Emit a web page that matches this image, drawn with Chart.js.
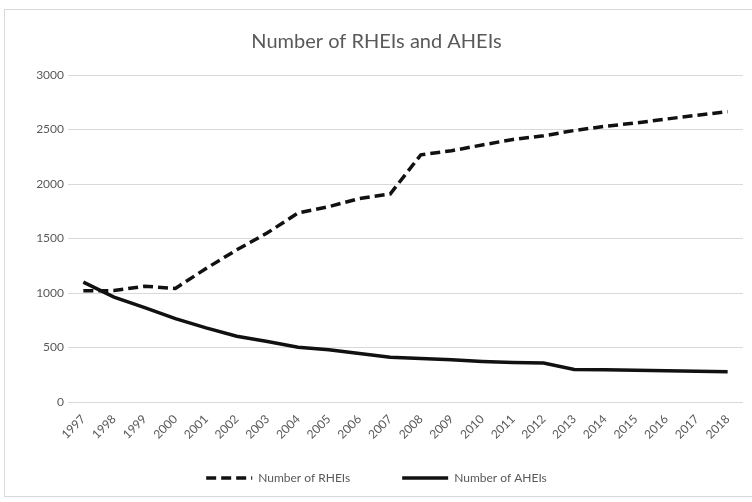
<!DOCTYPE html>
<html>
<head>
<meta charset="utf-8">
<script src="https://cdn.jsdelivr.net/npm/chart.js@4/dist/chart.umd.min.js"></script>
<style>
  body { margin: 0; background: #fff; }
  #wrap { position: relative; width: 752px; height: 502px; }
  #frame { position: absolute; left: 4px; top: 9px; width: 750px; height: 488px; border: 1px solid #d9d9d9; box-sizing: border-box; }
  canvas { position: absolute; left: 0; top: 0; }
</style>
</head>
<body>
<div id="wrap">
  <div id="frame"></div>
  <canvas id="chart" width="752" height="502"></canvas>
</div>
<script>
const years = ["1997", "1998", "1999", "2000", "2001", "2002", "2003", "2004", "2005", "2006", "2007",
    "2008", "2009", "2010", "2011", "2012", "2013", "2014", "2015", "2016", "2017", "2018"];
const rheis = [1020, 1022, 1062, 1042, 1225, 1396, 1552, 1735, 1792, 1867, 1908,
    2268, 2305, 2358, 2409, 2442, 2491, 2529, 2560, 2596, 2631, 2664];
const aheis = [1100, 963, 865, 765, 680, 603, 555, 502, 480, 445, 410,
    400, 388, 372, 362, 358, 298, 296, 292, 286, 282, 278];
const yTicks = [0, 500, 1000, 1500, 2000, 2500, 3000];

const grey = "#595959";
const fontFamily = "Lato, 'Open Sans', sans-serif";
const dash = [10, 5];

const ctx = document.getElementById("chart").getContext("2d");
new Chart(ctx, {
    type: "line",
    data: {
        labels: years,
        datasets: [{
            label: "Number of RHEIs",
            data: rheis,
            borderColor: "#111",
            backgroundColor: "#111",
            borderWidth: 3.5,
            borderDash: dash,
            pointRadius: 0,
            pointStyle: "line",
            tension: 0
        }, {
            label: "Number of AHEIs",
            data: aheis,
            borderColor: "#111",
            backgroundColor: "#111",
            borderWidth: 3.5,
            pointRadius: 0,
            pointStyle: "line",
            tension: 0
        }]
    },
    options: {
        responsive: false,
        animation: false,
        layout: { padding: { top: 20, left: 10, right: 9, bottom: 8 } },
        plugins: {
            title: {
                display: true,
                text: "Number of RHEIs and AHEIs",
                color: grey,
                font: { family: fontFamily, size: 20, weight: "normal" },
                padding: { top: 10, bottom: 21 }
            },
            legend: {
                position: "bottom",
                labels: {
                    color: grey,
                    font: { family: fontFamily, size: 12 },
                    usePointStyle: true,
                    pointStyle: "line",
                    pointStyleWidth: 46,
                    padding: 12,
                    generateLabels: chart => {
                        const items = Chart.defaults.plugins.legend.labels.generateLabels(chart);
                        items.forEach(item => {
                            item.lineWidth = 3.5;
                            item.strokeStyle = "#111";
                        });
                        items[0].lineDash = dash;
                        items[0].text = items[0].text + "             ";
                        return items;
                    }
                }
            },
            tooltip: { enabled: false }
        },
        scales: {
            x: {
                offset: true,
                grid: { display: false },
                border: { display: false },
                ticks: {
                    color: grey,
                    font: { family: fontFamily, size: 12 },
                    maxRotation: 45,
                    minRotation: 45,
                    autoSkip: false,
                    padding: 2
                },
                afterFit: scale => { scale.height = 58; }
            },
            y: {
                min: 0,
                max: 3000,
                afterBuildTicks: scale => { scale.ticks = yTicks.map(v => ({ value: v })); },
                grid: { color: "#d9d9d9", drawTicks: false, lineWidth: 1 },
                border: { display: false },
                ticks: {
                    color: grey,
                    font: { family: fontFamily, size: 12 },
                    padding: 4,
                    callback: value => String(value)
                },
                afterFit: scale => { scale.width = 58; }
            }
        }
    }
});
</script>
</body>
</html>
